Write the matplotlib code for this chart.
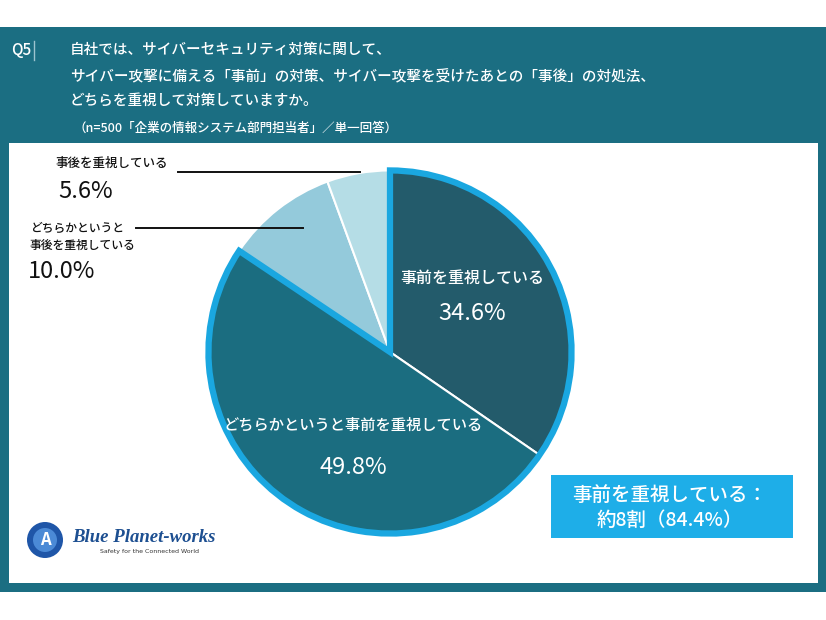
import matplotlib
matplotlib.use("Agg")
import matplotlib.pyplot as plt
from matplotlib.patches import Rectangle, Wedge, Circle

plt.rcParams['font.family'] = ['Noto Sans CJK JP', 'DejaVu Sans']

# ---- data ----
categories = ["事前を重視している", "どちらかというと事前を重視している",
              "どちらかというと\n事後を重視している", "事後を重視している"]
values = [34.6, 49.8, 10.0, 5.6]
pct_labels = ["34.6%", "49.8%", "10.0%", "5.6%"]
slice_colors = ["#235b6b", "#1b6d80", "#94cadb", "#b5dde6"]
summary_text = "事前を重視している：\n約8割（84.4%）"
title_lines = ["自社では、サイバーセキュリティ対策に関して、",
               "サイバー攻撃に備える「事前」の対策、サイバー攻撃を受けたあとの「事後」の対処法、",
               "どちらを重視して対策していますか。"]
subtitle = "（n=500「企業の情報システム部門担当者」／単一回答）"

W, H = 826, 620
fig = plt.figure(figsize=(W / 100, H / 100), dpi=100)
fig.patch.set_facecolor("white")

TEAL = "#1b6e82"
BRIGHT = "#1aa7e0"

# background axes (pixel coords)
bg = fig.add_axes([0, 0, 1, 1], zorder=0)
bg.set_xlim(0, W); bg.set_ylim(H, 0); bg.axis("off")
bg.add_patch(Rectangle((0, 27), W, 565, color=TEAL, lw=0))
bg.add_patch(Rectangle((9, 143), 809, 440, color="white", lw=0))

# pie axes
cx, cy, R = 390, 352, 187
pie_ax = fig.add_axes([(cx - R) / W, 1 - (cy + R) / H, 2 * R / W, 2 * R / H], zorder=1)
wedges, _ = pie_ax.pie(values, colors=slice_colors, startangle=90, counterclock=False,
                       radius=1.0, wedgeprops=dict(edgecolor="white", linewidth=1.5))
pie_ax.set_xlim(-1.03, 1.03); pie_ax.set_ylim(-1.03, 1.03)
pie_ax.set_aspect("equal")
pie_ax.axis("off")
# outline around the "事前" group
pre_total = values[0] + values[1]
theta2 = 90
theta1 = 90 - pre_total * 3.6
pie_ax.add_patch(Wedge((0, 0), 1.0, theta1, theta2, fill=False,
                       edgecolor=BRIGHT, linewidth=4.5, joinstyle="miter"))

# overlay axes for text and lines
ov = fig.add_axes([0, 0, 1, 1], zorder=3)
ov.set_xlim(0, W); ov.set_ylim(H, 0); ov.axis("off")
ov.patch.set_alpha(0)

# header
ov.text(11, 50, "Q5", color="white", fontsize=11, fontweight="medium", va="center", ha="left")
ov.plot([34, 34], [41, 60], color="#9cc4cf", lw=1)
for y, line in zip([50, 77, 102], title_lines):
    ov.text(70, y, line, color="white", fontsize=10.5, fontweight="medium",
            va="center", ha="left")
ov.text(74, 128, subtitle, color="white", fontsize=9, fontweight="medium",
        va="center", ha="left")

# inner labels
ov.text(472, 278, categories[0], color="white", fontsize=11.5, fontweight="medium",
        ha="center", va="center")
ov.text(472, 313, pct_labels[0], color="white", fontsize=17, ha="center", va="center")
ov.text(353, 425, categories[1], color="white", fontsize=11, fontweight="medium",
        ha="center", va="center")
ov.text(353, 467, pct_labels[1], color="white", fontsize=17, ha="center", va="center")

# outer labels
ov.text(55, 163, categories[3], color="#111111", fontsize=9, fontweight="medium",
        ha="left", va="center")
ov.text(58, 191, pct_labels[3], color="#111111", fontsize=17, ha="left", va="center")
ov.plot([178, 360], [172, 172], color="#111111", lw=1.4)
ov.text(30, 237, categories[2], color="#111111", fontsize=8.5, fontweight="medium",
        ha="left", va="center", linespacing=1.35)
ov.text(28, 272, pct_labels[2], color="#111111", fontsize=17, ha="left", va="center")
ov.plot([136, 303], [228, 228], color="#111111", lw=1.4)

# summary box
ov.add_patch(Rectangle((551, 475), 242, 63, color="#1eaee8", lw=0))
ov.text(670, 508, summary_text, color="white", fontsize=14, fontweight="medium",
        ha="center", va="center", linespacing=1.4)

# logo
ov.add_patch(Circle((45, 540), 18, color="#1f56a8", lw=0))
ov.add_patch(Circle((45, 540), 12, color="#4b8ad6", lw=0))
ov.text(45, 540, "A", color="white", fontsize=12, ha="center", va="center", fontweight="bold")
ov.text(72, 538, "Blue Planet-works", color="#1d4f91", fontsize=13.5, fontstyle="italic",
        fontweight="bold", family=["Liberation Serif"], ha="left", va="center")
ov.text(100, 552, "Safety for the Connected World", color="#333333", fontsize=4.5,
        family=["DejaVu Sans"], ha="left", va="center")

fig.savefig("out.png", dpi=100, facecolor="white")
